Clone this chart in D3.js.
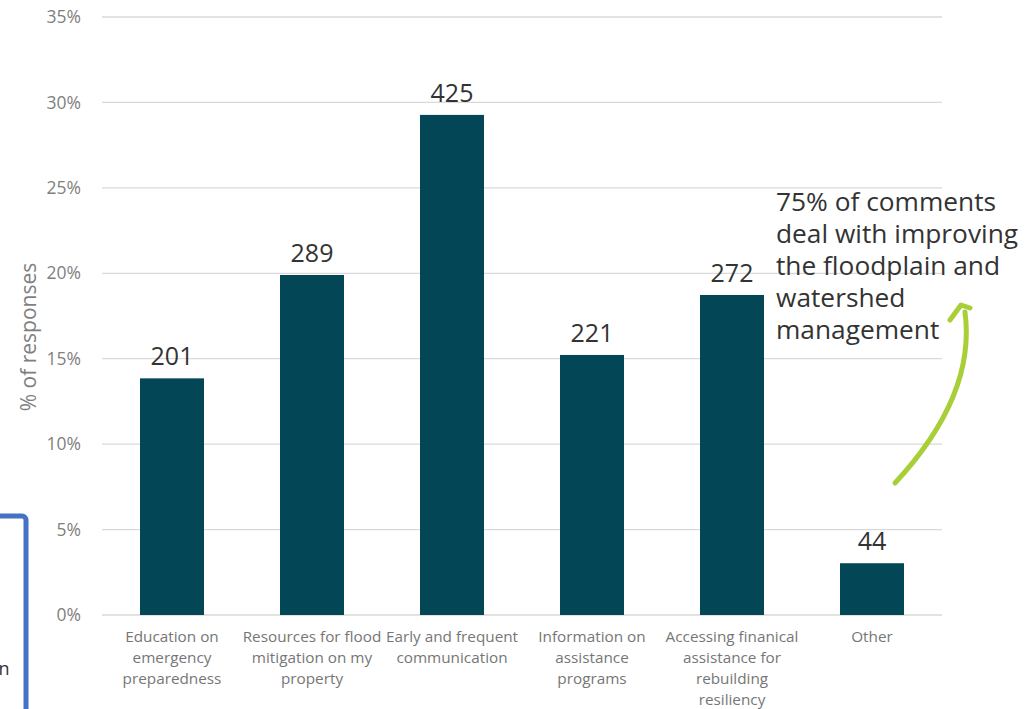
<!DOCTYPE html>
<html>
<head>
<meta charset="utf-8">
<script src="https://cdn.jsdelivr.net/npm/d3@7/dist/d3.min.js"></script>
<style>
  html, body { margin: 0; padding: 0; background: #fff; }
  svg { display: block; font-family: "Open Sans", "Noto Sans", sans-serif; }
</style>
</head>
<body>
<svg id="chart" width="1036" height="709"></svg>
<script>
const categories = [
  ["Education on", "emergency", "preparedness"],
  ["Resources for flood", "mitigation on my", "property"],
  ["Early and frequent", "communication"],
  ["Information on", "assistance", "programs"],
  ["Accessing finanical", "assistance for", "rebuilding", "resiliency"],
  ["Other"]
];
const counts = [201, 289, 425, 221, 272, 44];
const percents = [13.85, 19.9, 29.27, 15.22, 18.73, 3.03];
const yTicks = [0, 5, 10, 15, 20, 25, 30, 35];
const annotation = ["75% of comments", "deal with improving", "the floodplain and", "watershed", "management"];

(function () {
const svg = d3.select("#chart");
const pLeft = 102, pRight = 942, pTop = 17, pBottom = 615;

const x = d3.scaleBand()
  .domain(d3.range(categories.length))
  .range([pLeft, pRight])
  .paddingInner(0.543)
  .paddingOuter(0.2715);

const y = d3.scaleLinear().domain([0, 35]).range([pBottom, pTop]);

// gridlines
svg.append("g")
  .selectAll("line")
  .data(yTicks)
  .join("line")
  .attr("x1", pLeft).attr("x2", pRight)
  .attr("y1", d => y(d)).attr("y2", d => y(d))
  .attr("stroke", "#d9d9d9").attr("stroke-width", 1.3);

// y axis labels
const yAxis = d3.axisLeft(y).tickValues(yTicks).tickFormat(d => d + "%").tickSize(0).tickPadding(0);
const ya = svg.append("g").attr("transform", `translate(81,0)`).call(yAxis);
ya.select(".domain").remove();
ya.selectAll("text").attr("font-size", 17.5).attr("fill", "#7f7f7f").attr("font-family", "Open Sans, sans-serif");

// y title
svg.append("text")
  .attr("transform", `translate(36,337) rotate(-90)`)
  .attr("text-anchor", "middle")
  .attr("font-size", 21)
  .attr("fill", "#7f7f7f")
  .text("% of responses");

// bars
svg.append("g")
  .selectAll("rect")
  .data(percents)
  .join("rect")
  .attr("x", (d, i) => x(i))
  .attr("width", x.bandwidth())
  .attr("y", d => y(d))
  .attr("height", d => y(0) - y(d))
  .attr("fill", "#034656");

// data labels
svg.append("g")
  .selectAll("text")
  .data(percents)
  .join("text")
  .attr("x", (d, i) => x(i) + x.bandwidth() / 2)
  .attr("y", d => y(d) - 13)
  .attr("text-anchor", "middle")
  .attr("font-size", 25)
  .attr("fill", "#333333")
  .text((d, i) => counts[i]);

// category labels
const cat = svg.append("g")
  .selectAll("text")
  .data(categories)
  .join("text")
  .attr("x", (d, i) => x(i) + x.bandwidth() / 2)
  .attr("y", 642)
  .attr("text-anchor", "middle")
  .attr("font-size", 15.3)
  .attr("fill", "#767676");
cat.selectAll("tspan")
  .data(d => d)
  .join("tspan")
  .attr("x", function () { return d3.select(this.parentNode).attr("x"); })
  .attr("dy", (d, i) => i === 0 ? 0 : 21)
  .text(d => d);

// annotation
const ann = svg.append("text")
  .attr("x", 776).attr("y", 211)
  .attr("font-size", 26.3)
  .attr("fill", "#333333");
ann.selectAll("tspan")
  .data(annotation)
  .join("tspan")
  .attr("x", 776)
  .attr("dy", (d, i) => i === 0 ? 0 : 32)
  .text(d => d);

// green arrow
svg.append("path")
  .attr("d", "M895,483 C935,440 974,380 965,312")
  .attr("fill", "none")
  .attr("stroke", "#a8cf38")
  .attr("stroke-width", 5)
  .attr("stroke-linecap", "round");
svg.append("path")
  .attr("d", "M950,320 L961,305 L970,308")
  .attr("fill", "none")
  .attr("stroke", "#a8cf38")
  .attr("stroke-width", 5)
  .attr("stroke-linecap", "round")
  .attr("stroke-linejoin", "round");

// blue box on left (cropped)
svg.append("rect")
  .attr("x", -20).attr("y", 516)
  .attr("width", 46).attr("height", 240)
  .attr("rx", 4)
  .attr("fill", "none")
  .attr("stroke", "#4472c4")
  .attr("stroke-width", 5);
svg.append("text")
  .attr("x", -6).attr("y", 675)
  .attr("font-size", 18)
  .attr("fill", "#333333")
  .text("in");
})();
</script>
</body>
</html>
